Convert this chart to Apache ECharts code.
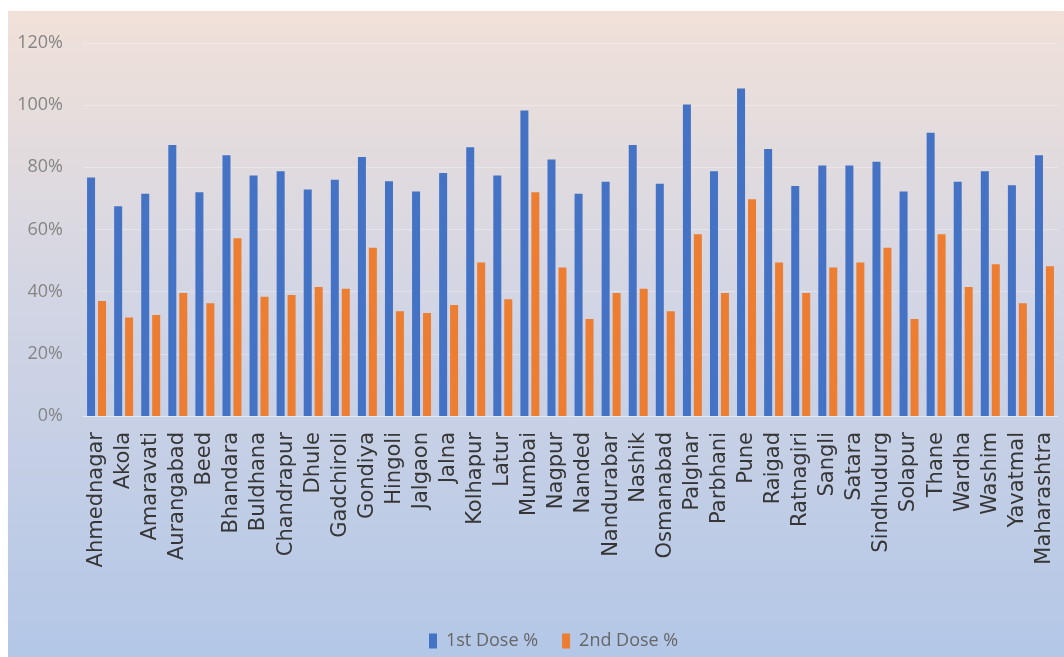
<!DOCTYPE html>
<html>
<head>
<meta charset="utf-8">
<script src="https://cdn.jsdelivr.net/npm/echarts@6/dist/echarts.min.js"></script>
<style>
html,body{margin:0;padding:0;background:#ffffff;}
#chart{width:1064px;height:657px;}
</style>
</head>
<body>
<div id="chart"></div>
<script>
const categories = ["Ahmednagar","Akola","Amaravati","Aurangabad","Beed","Bhandara","Buldhana","Chandrapur","Dhule","Gadchiroli","Gondiya","Hingoli","Jalgaon","Jalna","Kolhapur","Latur","Mumbai","Nagpur","Nanded","Nandurabar","Nashik","Osmanabad","Palghar","Parbhani","Pune","Raigad","Ratnagiri","Sangli","Satara","Sindhudurg","Solapur","Thane","Wardha","Washim","Yavatmal","Maharashtra"];
const firstDose = [76.7,67.5,71.5,87.2,72.0,83.9,77.4,78.7,72.9,76.0,83.3,75.5,72.2,78.2,86.5,77.4,98.3,82.5,71.5,75.4,87.2,74.7,100.2,78.7,105.4,85.9,74.0,80.6,80.6,81.8,72.2,91.1,75.4,78.7,74.2,83.9];
const secondDose = [37.0,31.7,32.5,39.6,36.3,57.2,38.4,38.9,41.5,40.9,54.1,33.7,33.1,35.7,49.4,37.6,72.0,47.8,31.2,39.6,40.9,33.7,58.5,39.6,69.7,49.4,39.6,47.8,49.4,54.1,31.2,58.5,41.5,48.8,36.3,48.2];
const yTicks = {min:0, max:120, interval:20};
const seriesNames = ["1st Dose %","2nd Dose %"];

const chart = echarts.init(document.getElementById('chart'), null, {renderer:'canvas'});
chart.setOption({
  backgroundColor: 'transparent',
  animation: false,
  graphic: [{
    type: 'rect', left: 8, top: 11, z: -10, silent: true,
    shape: {width: 1056, height: 646},
    style: {fill: new echarts.graphic.LinearGradient(0,0,0,1,[
      {offset:0, color:'#f1e1d8'},
      {offset:0.45, color:'#d2d5e4'},
      {offset:1, color:'#b3c7e7'}
    ])}
  }],
  legend: {
    data: seriesNames,
    left: 424, top: 627,
    icon: 'rect', itemWidth: 8, itemHeight: 15, itemGap: 24,
    textStyle: {fontFamily: 'Open Sans', fontSize: 18, color: '#666666', padding: [0,0,0,4]}
  },
  grid: {left: 83, right: 6, top: 43, bottom: 241, containLabel: false},
  xAxis: {
    type: 'category',
    data: categories,
    axisTick: {show: false},
    axisLine: {show: true, lineStyle: {color: 'rgba(255,255,255,0.3)', width: 1}},
    axisLabel: {
      interval: 0, rotate: 90, margin: 16,
      fontFamily: 'DejaVu Sans', fontSize: 21, color: '#363636'
    }
  },
  yAxis: {
    type: 'value',
    min: yTicks.min, max: yTicks.max, interval: yTicks.interval,
    axisLine: {show: false}, axisTick: {show: false},
    axisLabel: {formatter: '{value}%', fontFamily: 'Open Sans', fontSize: 18, color: '#858585', margin: 20},
    splitLine: {lineStyle: {color: 'rgba(255,255,255,0.3)', width: 1}}
  },
  series: [
    {name: seriesNames[0], type: 'bar', data: firstDose, barWidth: 8, barGap: '37%', itemStyle: {color: '#4472c4'}},
    {name: seriesNames[1], type: 'bar', data: secondDose, barWidth: 8, barGap: '37%', itemStyle: {color: '#ed7d31'}}
  ]
});
</script>
</body>
</html>
